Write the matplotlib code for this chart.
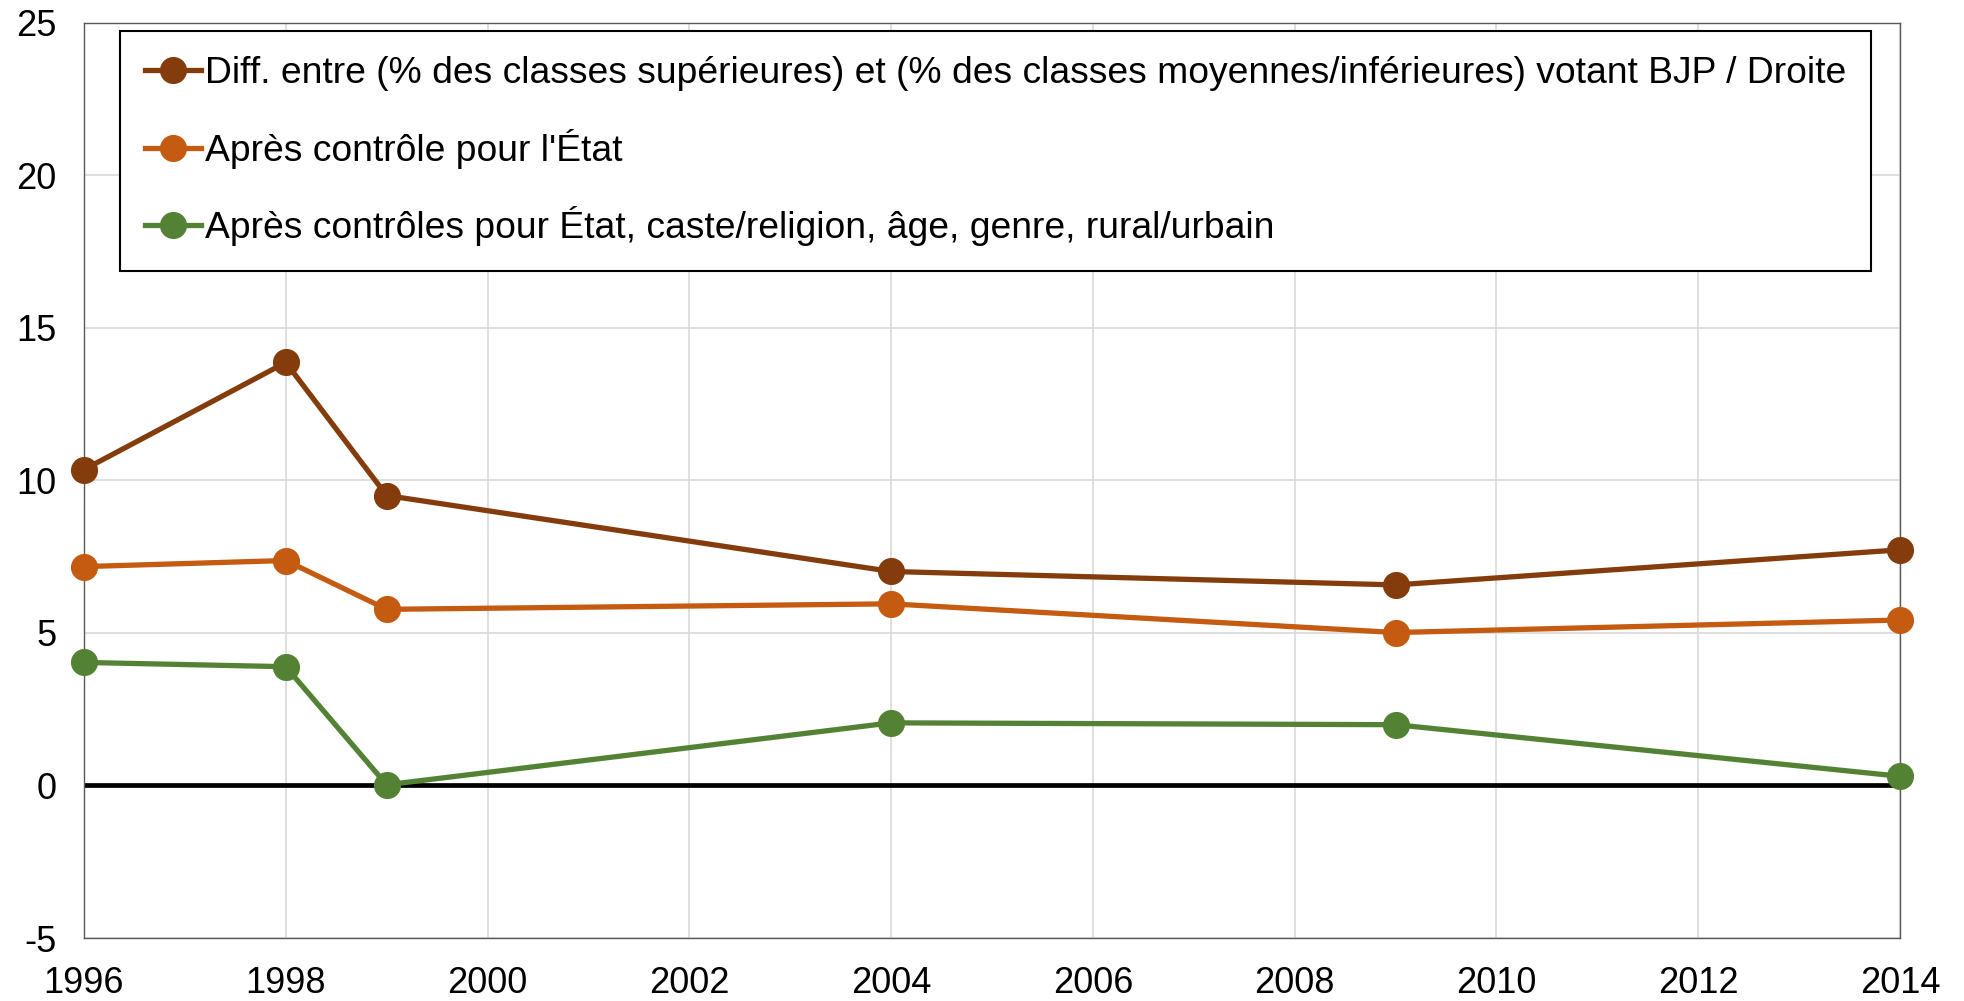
import matplotlib.pyplot as plt

plt.rcParams["font.family"] = ["Liberation Sans", "DejaVu Sans"]
plt.rcParams["axes.unicode_minus"] = False

years = [1996, 1998, 1999, 2004, 2009, 2014]
diff_raw = [10.35, 13.86, 9.50, 7.01, 6.57, 7.72]
diff_state = [7.17, 7.37, 5.77, 5.95, 5.01, 5.42]
diff_all = [4.03, 3.89, 0.02, 2.05, 1.99, 0.30]

labels = [
    "Diff. entre (% des classes supérieures) et (% des classes moyennes/inférieures) votant BJP / Droite",
    "Après contrôle pour l'État",
    "Après contrôles pour État, caste/religion, âge, genre, rural/urbain",
]
colors = ["#843C0C", "#C55A11", "#548235"]

x_ticks = list(range(1996, 2015, 2))
y_ticks = list(range(-5, 26, 5))

fig = plt.figure(figsize=(19.64, 10.01), dpi=100)
ax = fig.add_axes([84 / 1964, 1 - 938 / 1001, (1900 - 84) / 1964, (938 - 22.5) / 1001])

for vals, lab, c in zip([diff_raw, diff_state, diff_all], labels, colors):
    ax.plot(years, vals, "-o", color=c, lw=3.8, ms=18.5, label=lab, zorder=3,
            clip_on=False)

ax.axhline(0, color="black", lw=3.4, zorder=2)
ax.set_xlim(1996, 2014)
ax.set_ylim(-5, 25)
ax.set_xticks(x_ticks)
ax.set_yticks(y_ticks)
ax.grid(True, color="#D9D9D9", lw=1.2)
ax.set_axisbelow(True)
ax.tick_params(length=0, labelsize=26)
ax.tick_params(axis="x", pad=20)
ax.tick_params(axis="y", pad=20)
for sp in ax.spines.values():
    sp.set_color("#595959")
    sp.set_linewidth(1.0)

leg = ax.legend(loc="upper left", bbox_to_anchor=(120 / 1964, 1 - 31 / 1001),
                bbox_transform=fig.transFigure, fontsize=26.8, frameon=True,
                fancybox=False, edgecolor="black", framealpha=1,
                borderpad=0.68, labelspacing=1.0, handlelength=1.5,
                handletextpad=0.1, borderaxespad=0)
leg.get_frame().set_linewidth(1.5)
leg.set_zorder(5)

fig.savefig("out.png", dpi=100)
